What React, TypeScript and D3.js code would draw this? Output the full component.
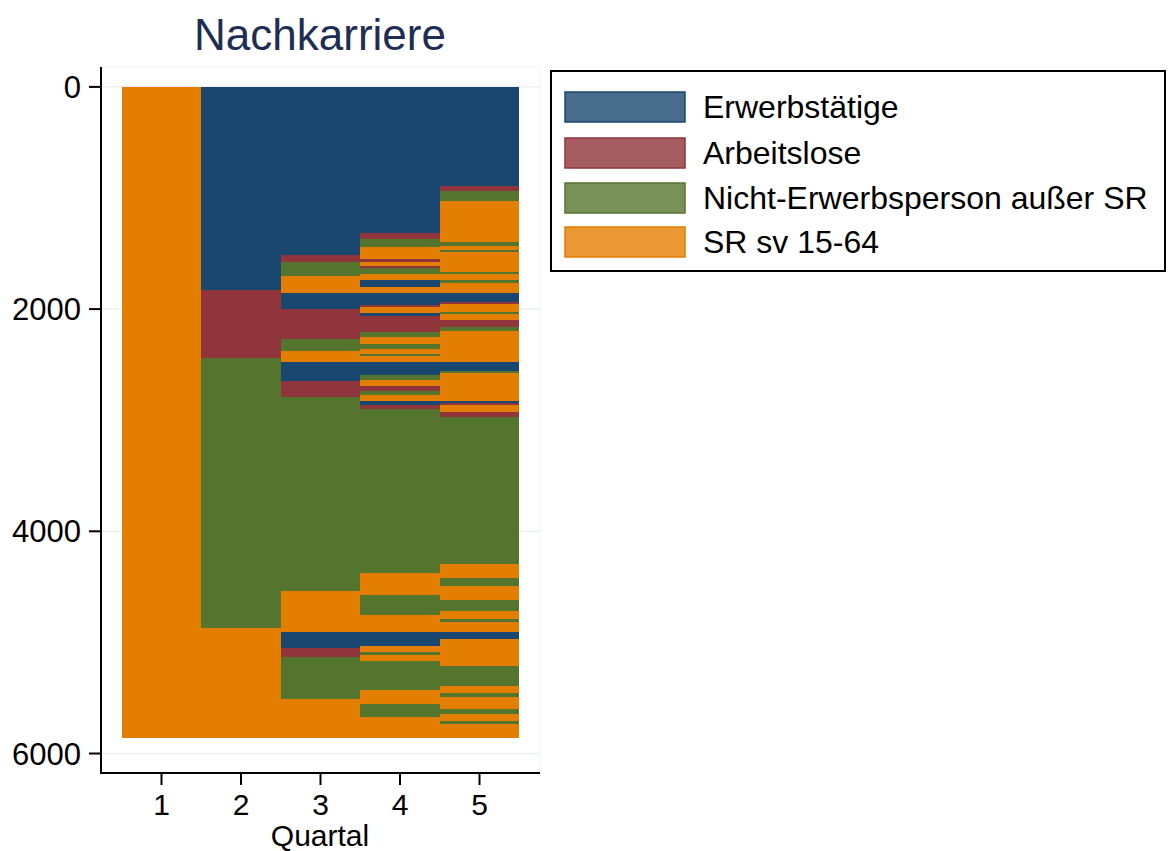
import React from "react";
import * as d3 from "d3";

// Sequence index plot: one horizontal line per person, coloured by state per quarter.
const STATES = ["Erwerbstätige", "Arbeitslose", "Nicht-Erwerbsperson außer SR", "SR sv 15-64"];
const STATE_COLORS = ["#1a476f", "#90353b", "#55752f", "#e37e00"];
const QUARTALS = [1, 2, 3, 4, 5];
const Y_TICKS = [0, 2000, 4000, 6000];

// Each spell: [state index, cumulative sequence count where it ends]
const q1Spells: [number, number][] = [[3, 5860]];
const q2Spells: [number, number][] = [[0, 1827], [1, 2439], [2, 4869], [3, 5860]];
const q3Spells: [number, number][] = [
  [0, 1512], [1, 1575], [2, 1701], [3, 1854], [0, 1998], [1, 2268], [2, 2376], [3, 2475],
  [0, 2646], [1, 2790], [2, 4536], [3, 4905], [0, 5049], [1, 5130], [2, 5508], [3, 5860],
];
const q4Spells: [number, number][] = [
  [0, 1314], [1, 1368], [2, 1440], [3, 1548], [1, 1575], [3, 1611], [1, 1629], [2, 1683],
  [3, 1737], [0, 1800], [3, 1854], [0, 1962], [1, 1980], [3, 2034], [0, 2061], [1, 2205],
  [2, 2250], [3, 2313], [2, 2358], [3, 2403], [2, 2421], [3, 2475], [0, 2592], [2, 2637],
  [3, 2691], [1, 2736], [2, 2772], [3, 2826], [0, 2862], [1, 2898], [2, 4374], [3, 4572],
  [2, 4752], [3, 4905], [0, 5031], [3, 5085], [2, 5112], [3, 5166], [2, 5427], [3, 5553],
  [2, 5670], [3, 5860],
];
const q5Spells: [number, number][] = [
  [0, 891], [1, 936], [2, 1026], [3, 1395], [2, 1431], [3, 1467], [2, 1485], [3, 1665],
  [2, 1683], [3, 1737], [2, 1764], [3, 1854], [0, 1935], [1, 1953], [3, 2025], [2, 2043],
  [3, 2097], [1, 2160], [2, 2196], [3, 2475], [0, 2556], [2, 2574], [3, 2826], [0, 2844],
  [1, 2862], [3, 2925], [1, 2970], [2, 4293], [3, 4419], [2, 4491], [3, 4617], [2, 4716],
  [3, 4788], [2, 4815], [3, 4905], [0, 4968], [3, 5211], [2, 5391], [3, 5454], [2, 5490],
  [3, 5598], [2, 5643], [3, 5706], [2, 5733], [3, 5860],
];
const SPELLS = [q1Spells, q2Spells, q3Spells, q4Spells, q5Spells];

const FONT = "'Liberation Sans', Arial, Helvetica, sans-serif";

export default function App() {
  const W = 1168;
  const H = 851;
  const plot = { left: 101, right: 540, top: 67, bottom: 773 };

  const x = d3.scaleLinear().domain([0.5, 5.5]).range([121.75, 519.25]);
  const y = d3.scaleLinear().domain([0, 6000]).range([86.9, 753.5]);

  const rects: React.ReactElement[] = [];
  SPELLS.forEach((spells, qi) => {
    const q = QUARTALS[qi];
    let start = 0;
    spells.forEach(([s, end], si) => {
      rects.push(
        <rect
          key={`${q}-${si}`}
          x={x(q - 0.5)}
          y={y(start)}
          width={x(q + 0.5) - x(q - 0.5)}
          height={y(end) - y(start)}
          fill={STATE_COLORS[s]}
          shapeRendering="crispEdges"
        />
      );
      start = end;
    });
  });

  const legendRows = [107, 153, 198, 242];

  return (
    <svg
      width={W}
      height={H}
      style={{ position: "absolute", left: 0, top: 0, background: "#fff" }}
      fontFamily={FONT}
    >
      <rect x={0} y={0} width={W} height={H} fill="#fff" />
      {/* plot region frame and grid */}
      <rect
        x={plot.left}
        y={plot.top}
        width={plot.right - plot.left}
        height={plot.bottom - plot.top}
        fill="none"
        stroke="#edf2f5"
        strokeWidth={1}
      />
      {Y_TICKS.map((t) => (
        <line key={`g${t}`} x1={plot.left} x2={plot.right} y1={y(t)} y2={y(t)} stroke="#e8eef2" strokeWidth={1.2} />
      ))}

      <g>{rects}</g>

      {/* y axis */}
      <line x1={plot.left} x2={plot.left} y1={plot.top} y2={plot.bottom} stroke="#000" strokeWidth={2} />
      {Y_TICKS.map((t) => (
        <g key={`yt${t}`}>
          <line x1={plot.left - 12} x2={plot.left} y1={y(t)} y2={y(t)} stroke="#000" strokeWidth={2} />
          <text x={plot.left - 20} y={y(t) + 11} textAnchor="end" fontSize={31} fill="#000">
            {t}
          </text>
        </g>
      ))}

      {/* x axis */}
      <line x1={plot.left - 1} x2={plot.right} y1={plot.bottom} y2={plot.bottom} stroke="#000" strokeWidth={2} />
      {QUARTALS.map((q) => (
        <g key={`xt${q}`}>
          <line x1={x(q)} x2={x(q)} y1={plot.bottom} y2={plot.bottom + 12} stroke="#000" strokeWidth={2} />
          <text x={x(q)} y={815} textAnchor="middle" fontSize={30} fill="#000">
            {q}
          </text>
        </g>
      ))}
      <text x={320} y={846} textAnchor="middle" fontSize={30} fill="#000">
        Quartal
      </text>

      {/* title */}
      <text x={320} y={50} textAnchor="middle" fontSize={44} fill="#1e2d53">
        Nachkarriere
      </text>

      {/* legend */}
      <rect x={551} y={71} width={614} height={200} fill="#fff" stroke="#000" strokeWidth={2} />
      {STATES.map((s, i) => (
        <g key={s}>
          <rect
            x={565}
            y={legendRows[i] - 15}
            width={120}
            height={30}
            fill={STATE_COLORS[i]}
            fillOpacity={0.8}
            stroke={STATE_COLORS[i]}
            strokeWidth={1.5}
          />
          <text x={703} y={legendRows[i] + 11} fontSize={32} fill="#000">
            {s}
          </text>
        </g>
      ))}
    </svg>
  );
}
